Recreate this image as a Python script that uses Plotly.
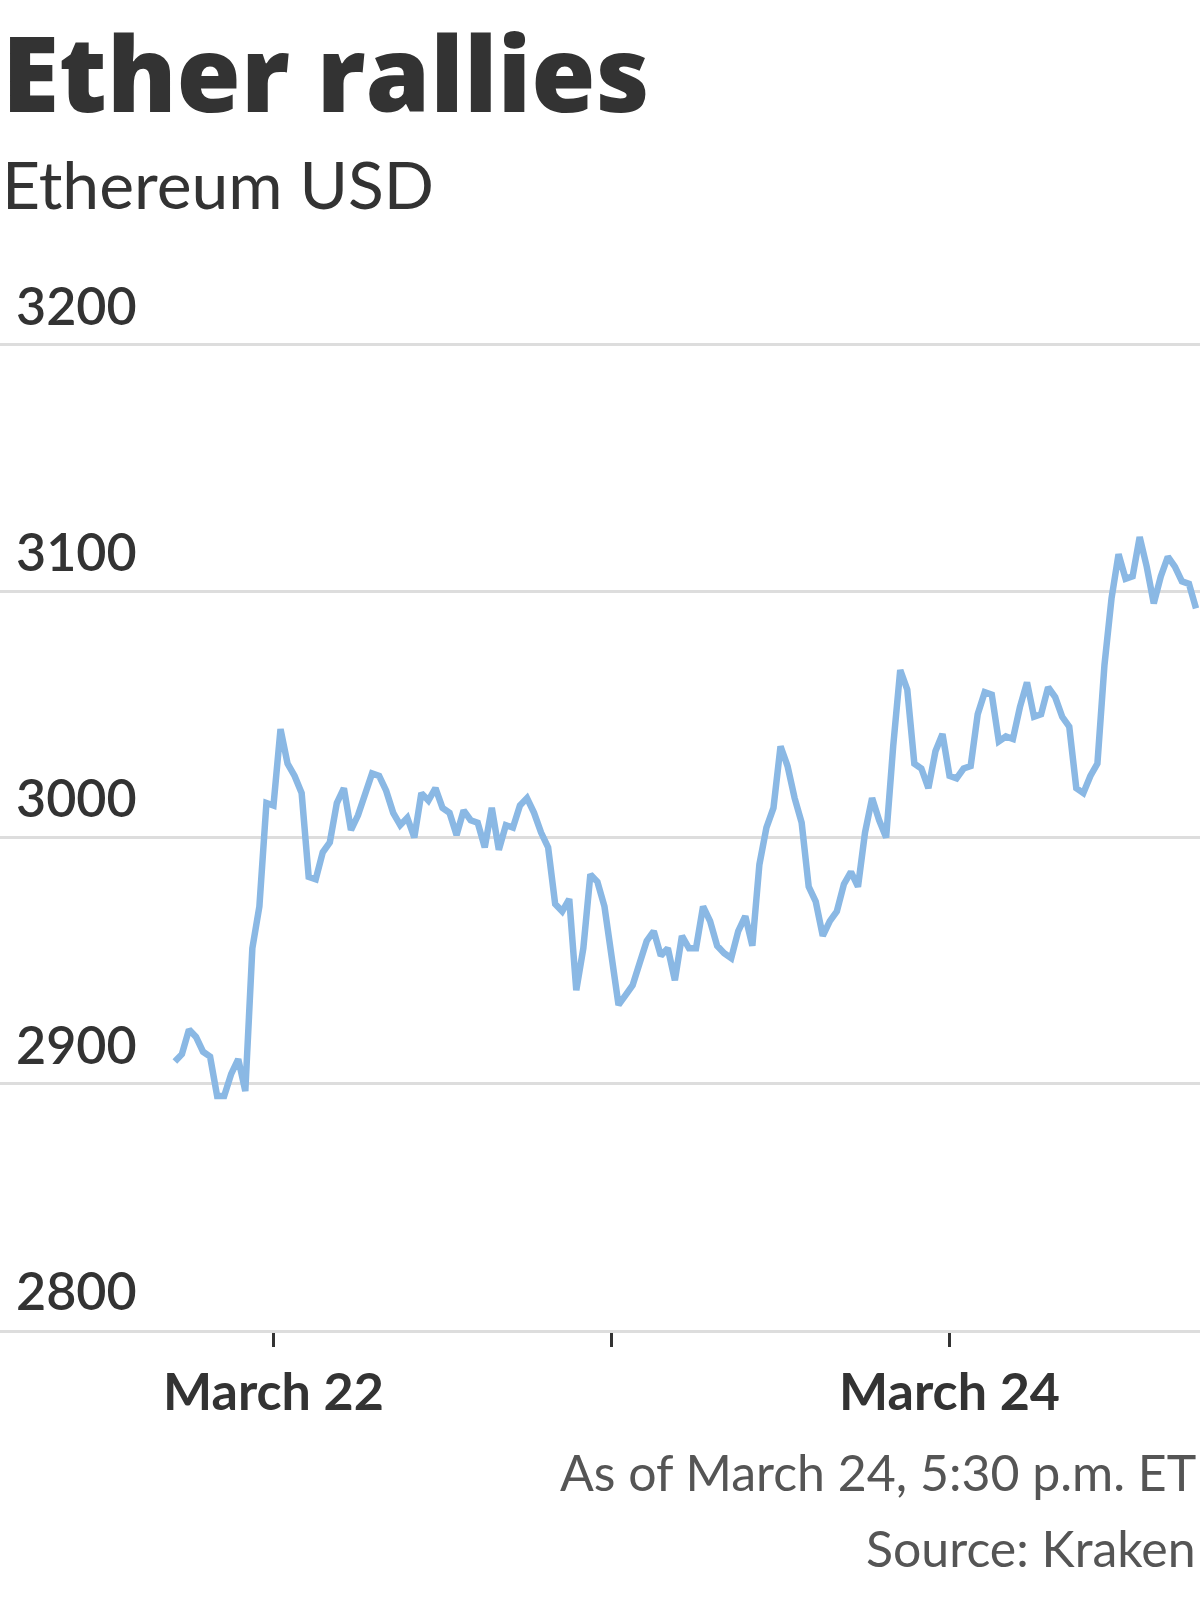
import pandas as pd
import plotly.graph_objects as go

# ---- data (Ethereum USD, 30-minute readings from 2022-03-21 17:00 ET) ----
start_time = "2022-03-21 17:00"
interval = "30min"
prices = [
    2909, 2912, 2922, 2919, 2913, 2911, 2895, 2895, 2904, 2910,
    2897, 2955, 2972, 3014, 3013, 3044, 3030, 3025, 3018, 2984,
    2983, 2994, 2998, 3014, 3020, 3003, 3009, 3017, 3026, 3025,
    3019, 3010, 3005, 3008, 3000, 3018, 3015, 3020, 3012, 3010,
    3001, 3011, 3007, 3006, 2996, 3012, 2995, 3005, 3004, 3013,
    3016, 3010, 3002, 2996, 2973, 2970, 2975, 2938, 2955, 2985,
    2982, 2972, 2953, 2932, 2936, 2940, 2949, 2958, 2962, 2952,
    2955, 2942, 2960, 2955, 2955, 2972, 2966, 2956, 2953, 2951,
    2962, 2968, 2956, 2989, 3004, 3012, 3037, 3029, 3016, 3006,
    2980, 2974, 2960, 2966, 2970, 2981, 2986, 2980, 3002, 3016,
    3007, 3000, 3037, 3068, 3060, 3030, 3028, 3020, 3035, 3042,
    3025, 3024, 3028, 3029, 3050, 3059, 3058, 3039, 3041, 3040,
    3053, 3063, 3049, 3050, 3061, 3057, 3049, 3045, 3020, 3018,
    3025, 3030, 3070, 3097, 3115, 3105, 3106, 3122, 3110, 3095,
    3106, 3114, 3110, 3104, 3103, 3093,
]
x_tick_dates = ["2022-03-22", "2022-03-23", "2022-03-24"]
x_tick_labels = ["March 22", "", "March 24"]
y_ticks = [2800, 2900, 3000, 3100, 3200]
y_tick_labels = ["2800", "2900", "3000", "3100", "3200"]

title_text = "Ether rallies"
subtitle_text = "Ethereum USD"
note_text = "As of March 24, 5:30 p.m. ET"
source_text = "Source: Kraken"

times = pd.date_range(start_time, periods=len(prices), freq=interval)

FONT = "Lato"
DARK = "#333333"
GREY_TEXT = "#555555"

fig = go.Figure()
fig.add_trace(go.Scatter(
    x=times, y=prices, mode="lines",
    line=dict(color="#8ab8e4", width=6.5),
    hoverinfo="skip", showlegend=False,
))

fig.update_layout(
    width=1200, height=1600,
    margin=dict(l=0, r=0, t=340, b=270, pad=0),
    paper_bgcolor="white", plot_bgcolor="white",
    font=dict(family=FONT, color=DARK),
    xaxis=dict(
        type="date",
        range=["2022-03-21 04:35", "2022-03-24 17:47"],
        tickmode="array", tickvals=x_tick_dates, ticktext=x_tick_labels,
        ticks="outside", ticklen=14, tickwidth=2.5, tickcolor=DARK,
        ticklabelstandoff=1,
        showgrid=False, zeroline=False,
        showline=True, linecolor="#dddddd", linewidth=2.5,
        tickfont=dict(family=FONT, size=52, color=DARK, weight=700),
        fixedrange=True,
    ),
    yaxis=dict(
        range=[2800, 3202],
        tickmode="array", tickvals=y_ticks, ticktext=y_tick_labels,
        ticks="", showgrid=True, gridcolor="#dddddd", gridwidth=2.5,
        zeroline=False, showline=False,
        ticklabelposition="inside top", ticklabeloverflow="allow",
        ticklabelstandoff=13, ticklabelshift=-2,
        tickfont=dict(family=FONT, size=52, color=DARK, weight=600),
        fixedrange=True,
    ),
)

fig.add_annotation(
    text=title_text, xref="paper", yref="paper", x=0, y=1.2715,
    xanchor="left", yanchor="middle", showarrow=False,
    font=dict(family="Open Sans", size=104, color=DARK, weight=800),
)
fig.add_annotation(
    text=subtitle_text, xref="paper", yref="paper", x=0, y=1.1585,
    xanchor="left", yanchor="middle", showarrow=False,
    font=dict(family=FONT, size=66, color=DARK, weight=400),
)
fig.add_annotation(
    text=note_text, xref="paper", yref="paper", x=1, y=-0.1435, xshift=-2,
    xanchor="right", yanchor="middle", showarrow=False,
    font=dict(family=FONT, size=50, color=GREY_TEXT, weight=400),
)
fig.add_annotation(
    text=source_text, xref="paper", yref="paper", x=1, y=-0.2202, xshift=-2,
    xanchor="right", yanchor="middle", showarrow=False,
    font=dict(family=FONT, size=50, color=GREY_TEXT, weight=400),
)

fig.write_html(
    "out.html",
    config={"displayModeBar": False},
    post_script="document.body.style.margin='0';document.body.style.overflow='hidden';",
)
